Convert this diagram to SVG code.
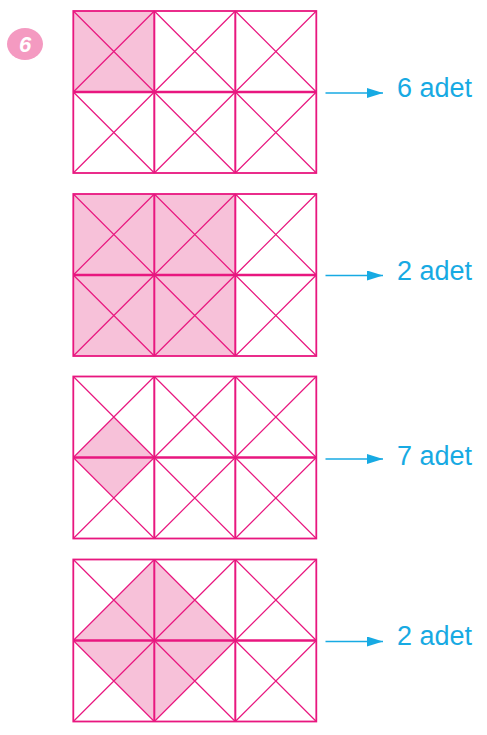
<svg xmlns="http://www.w3.org/2000/svg" xmlns:xlink="http://www.w3.org/1999/xlink" width="487" height="735" viewBox="0 0 487 735">
<style>
.shade{fill:#f7c1d9;stroke:none}
.diag{stroke:#e8177f;stroke-width:1.2;fill:none}
.inner{stroke:#e8177f;stroke-width:2;fill:none}
.outer{stroke:#e8177f;stroke-width:1.8;fill:none}
.arrow{stroke:#17aae3;stroke-width:1.6;fill:none}
.lbl{font-family:"Liberation Sans",Arial,sans-serif;font-size:27px;fill:#17aae3}
</style>
<defs>
<marker id="ah" viewBox="0 0 16 10" refX="16" refY="5" markerWidth="16" markerHeight="10" markerUnits="userSpaceOnUse" orient="auto">
<path d="M0,0 L16,5 L0,10 Z" fill="#17aae3"/>
</marker>
<g id="gridlines">
<path class="diag" d="M0,0 L81,81 M81,0 L0,81 M81,0 L162,81 M162,0 L81,81 M162,0 L243,81 M243,0 L162,81 M0,81 L81,162 M81,81 L0,162 M81,81 L162,162 M162,81 L81,162 M162,81 L243,162 M243,81 L162,162"/>
<path class="inner" d="M81,0 V162 M162,0 V162"/>
<path class="inner" d="M0,81 H243" style="stroke-width:2.4"/>
<rect class="outer" x="0" y="0" width="243" height="162"/>
</g>
</defs>
<g id="badge">
<ellipse cx="25" cy="44" rx="18" ry="16" fill="#f49ac1"/>
<text x="25" y="52" text-anchor="middle" font-family="'Liberation Sans',Arial,sans-serif" font-size="22" font-weight="bold" font-style="italic" fill="#ffffff">6</text>
</g>
<g id="grid1" transform="translate(73.3,11)">
<rect class="shade" x="0" y="0" width="81" height="81"/>
<use xlink:href="#gridlines"/>
</g>
<g id="grid2" transform="translate(73.3,194)">
<rect class="shade" x="0" y="0" width="162" height="162"/>
<use xlink:href="#gridlines"/>
</g>
<g id="grid3" transform="translate(73.3,376.5)">
<polygon class="shade" points="0,81 40.5,40.5 81,81 40.5,121.5"/>
<use xlink:href="#gridlines"/>
</g>
<g id="grid4" transform="translate(73.3,559.5)">
<polygon class="shade" points="0,81 81,0 162,81 81,162"/>
<use xlink:href="#gridlines"/>
</g>
<g id="connectors">
<line class="arrow" x1="325.5" y1="93" x2="383" y2="93" marker-end="url(#ah)"/>
<line class="arrow" x1="325.5" y1="275.5" x2="383" y2="275.5" marker-end="url(#ah)"/>
<line class="arrow" x1="325.5" y1="459" x2="383" y2="459" marker-end="url(#ah)"/>
<line class="arrow" x1="325.5" y1="641.5" x2="383" y2="641.5" marker-end="url(#ah)"/>
</g>
<g id="label1"><text class="lbl" x="397" y="97">6 adet</text></g>
<g id="label2"><text class="lbl" x="397" y="280">2 adet</text></g>
<g id="label3"><text class="lbl" x="397" y="465">7 adet</text></g>
<g id="label4"><text class="lbl" x="397" y="645">2 adet</text></g>
</svg>
